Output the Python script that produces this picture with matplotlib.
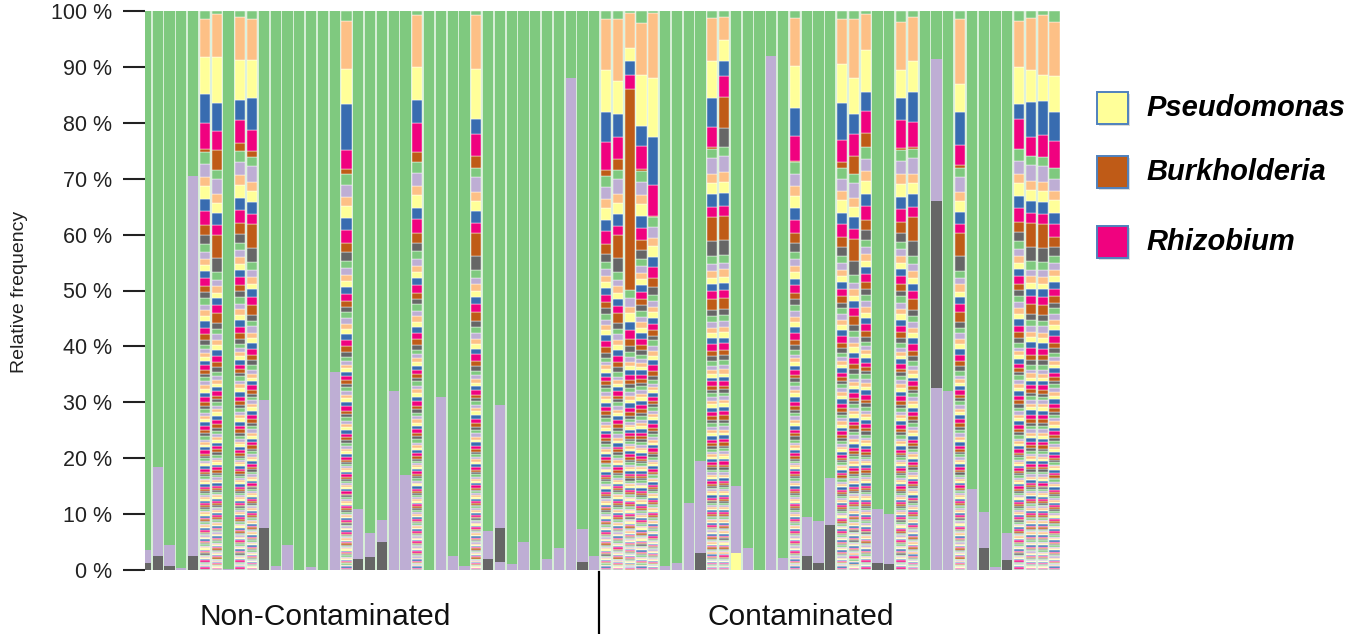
import numpy as np
import matplotlib
matplotlib.use("Agg")
import matplotlib.pyplot as plt
from matplotlib.patches import Rectangle
from matplotlib.lines import Line2D

plt.rcParams['font.family'] = ['Liberation Sans', 'DejaVu Sans']

# ---------------- data ----------------
group_names = ['Non-Contaminated', 'Contaminated']
group_sizes = [39, 39]
samples = [f'S{i}' for i in range(1, 79)]

# colour of each taxon rank, counted from the top of every stack (cycled)
rank_colors = ['#7fc97f', '#beaed4', '#fdc086', '#ffff99',
               '#386cb0', '#f0027f', '#bf5b17', '#666666']

legend_taxa = ['Pseudomonas', 'Burkholderia', 'Rhizobium']
legend_colors = ['#ffff99', '#bf5b17', '#f0027f']

# rank-1 taxon (lavender) share per sample, %
lav1 = [2.2, 16, 3.7, 0.3, 68, 0, 0, 0.2, 0, 0, 23, 0.8, 4.5,
        0, 0.5, 0, 35.5, 0, 9, 4.4, 4, 32, 17, 0, 0, 31,
        2.5, 0.8, 0, 5, 22, 1, 5, 0, 2, 4, 88, 5.8, 2.5,
        0, 0, 0, 0, 0, 0.8, 1.2, 12, 16.5, 0, 0, 12, 4,
        0, 92, 2.2, 0, 7, 7.4, 8.5, 0, 0, 0, 9.7, 9, 0,
        0, 0, 25.5, 32, 0, 14.5, 6.3, 0.5, 5, 0, 0, 0, 0]

# rank-7 taxon (dark grey) share per sample, %
gray7 = [1.3, 2.5, 0.8, 0, 2.5, 0, 0, 0, 0, 0, 7.5, 0, 0,
         0, 0, 0, 0, 0, 2, 2.3, 5, 0, 0, 0, 0, 0,
         0, 0, 0, 2, 6, 0, 0, 0, 0, 0, 0, 1.5, 0,
         0, 0, 0, 0, 0, 0, 0, 0, 3, 0, 3.3, 0, 0,
         0, 0, 0, 0, 2.5, 1.3, 8, 0, 0, 0, 1.3, 1, 0,
         0, 0, 33.5, 0, 0, 0, 4, 0, 1.7, 0, 0, 0, 0]

# extra minor shares in simple samples (sample number -> %)
lav9_extra = {31: 1.5, 68: 32.5}
yellow11_extra = {51: 3.0}

# highly diverse samples: leading ranks read per sample
mixed_ids = [6, 7, 9, 10, 18, 24, 29, 40, 41, 42, 43, 44, 49,
             50, 56, 60, 61, 62, 65, 66, 70, 75, 76, 77, 78]
mixed_green0 = [1.4, 0.5, 1.0, 1.4, 1.7, 0.7, 0.7, 1.5, 1.5, 0.4, 2.2, 0.3, 1.2,
                1.0, 1.3, 1.5, 1.5, 0.5, 2.0, 1.0, 1.5, 1.7, 1.3, 0.7, 2.0]
mixed_peach2 = [6.9, 7.7, 7.8, 7.4, 8.7, 9.3, 9.6, 9.0, 11.0, 6.2, 9.3, 11.7, 7.8,
                4.2, 8.5, 8.0, 10.5, 6.5, 8.5, 8.0, 11.5, 8.3, 9.3, 10.7, 9.7]
mixed_pseudomonas3 = [6.5, 8.2, 7.2, 6.8, 6.3, 6.0, 9.0, 7.5, 6.0, 2.4, 9.0, 10.5, 6.6,
                      3.8, 7.5, 7.0, 6.5, 7.5, 5.0, 5.5, 5.0, 6.7, 5.7, 4.7, 6.3]
mixed_blue4 = [5.2, 5.0, 3.5, 5.6, 8.1, 4.0, 2.7, 5.5, 4.0, 2.4, 3.6, 8.7, 5.1,
               2.7, 5.0, 6.5, 3.5, 3.3, 4.0, 5.3, 6.0, 2.7, 6.3, 6.0, 5.3]
mixed_rhizobium5 = [4.7, 3.5, 4.2, 3.8, 3.5, 5.3, 4.0, 5.0, 4.0, 2.6, 4.1, 5.4, 3.6,
                    3.6, 4.5, 4.0, 4.0, 4.0, 5.0, 4.5, 3.5, 5.3, 3.3, 4.0, 4.7]
mixed_burkholderia6 = [0.6, 3.5, 1.3, 1.1, 0.9, 1.7, 2.0, 1.0, 2.0, 36.0, 0.5, 0.3, 0.3,
                       5.7, 0.3, 1.0, 3.2, 2.5, 0.3, 0.3, 0.6, 0.0, 0.0, 0.0, 0.0]
mixed_tail = ['A', 'B', 'A', 'B', 'A', 'A', 'B', 'A', 'B', 'A', 'A', 'A', 'B',
              'B', 'A', 'A', 'B', 'A', 'A', 'B', 'B', 'A', 'B', 'B', 'A']

tail_A = [1.8, 2.0, 1.5, 2.0, 1.9, 2.1, 1.6, 1.4,
          1.2, 1.1, 1.0, 1.0, 1.1, 1.2, 1.0, 0.9,
          1.0, 0.9, 0.9, 0.8, 1.0, 1.0, 0.9, 0.8,
          0.7, 0.6, 0.6, 0.6, 0.7, 0.7, 0.6, 0.5,
          0.7, 0.6, 0.6, 0.6, 0.7, 0.7, 0.6, 0.5,
          0.6, 0.5, 0.5, 0.5, 0.6, 0.6, 0.5, 0.5,
          0.5, 0.4, 0.4, 0.4, 0.5, 0.5, 0.4, 0.3,
          0.4, 0.3, 0.3, 0.3, 0.4, 0.4, 0.4, 0.3,
          0.4, 0.3, 0.3, 0.3, 0.4, 0.4, 0.3, 0.3,
          0.3, 0.3, 0.3, 0.3, 0.3, 0.3, 0.3, 0.3,
          0.3, 0.3, 0.3, 0.2, 0.3, 0.3, 0.2, 0.2,
          0.3, 0.2, 0.2, 0.2, 0.3, 0.3, 0.2, 0.2,
          0.2, 0.2, 0.2, 0.2, 0.2, 0.2, 0.2, 0.2,
          0.2, 0.2, 0.2, 0.2, 0.2, 0.2, 0.2, 0.2,
          0.2, 0.2, 0.2, 0.1, 0.2, 0.2, 0.1, 0.1,
          0.2, 0.1, 0.1, 0.1, 0.2, 0.2, 0.1, 0.1]
tail_B = [1.5, 2.5, 1.5, 1.8, 2.0, 1.6, 3.8, 2.4,
          1.3, 1.0, 1.2, 0.9, 1.2, 1.3, 1.6, 1.0,
          0.9, 1.0, 0.8, 0.9, 0.9, 1.1, 0.8, 0.8,
          0.8, 0.6, 0.7, 0.5, 0.6, 0.8, 0.6, 0.5,
          0.6, 0.6, 0.5, 0.6, 0.7, 0.6, 0.7, 0.5,
          0.5, 0.6, 0.5, 0.4, 0.6, 0.5, 0.5, 0.4,
          0.5, 0.4, 0.4, 0.4, 0.4, 0.5, 0.4, 0.4,
          0.4, 0.4, 0.3, 0.3, 0.4, 0.4, 0.3, 0.3,
          0.3, 0.3, 0.3, 0.3, 0.4, 0.3, 0.3, 0.3,
          0.3, 0.3, 0.3, 0.2, 0.3, 0.3, 0.3, 0.2,
          0.3, 0.2, 0.3, 0.2, 0.3, 0.2, 0.2, 0.2,
          0.2, 0.2, 0.2, 0.2, 0.3, 0.2, 0.2, 0.2,
          0.2, 0.2, 0.2, 0.2, 0.2, 0.2, 0.2, 0.2,
          0.2, 0.2, 0.2, 0.1, 0.2, 0.2, 0.2, 0.1,
          0.2, 0.1, 0.1, 0.1, 0.2, 0.1, 0.1, 0.1,
          0.1, 0.1, 0.1, 0.1, 0.1, 0.1, 0.1, 0.1]

# ---------------- assemble table (ranks x samples) ----------------
n = len(samples)
tails = {'A': np.array(tail_A), 'B': np.array(tail_B)}
n_ranks = 8 + len(tail_A)
V = np.zeros((n_ranks, n))
V[1] = lav1
V[7] = gray7
for s, v in lav9_extra.items():
    V[9, s - 1] = v
for s, v in yellow11_extra.items():
    V[11, s - 1] = v
is_mixed = np.zeros(n, bool)
for k, s in enumerate(mixed_ids):
    j = s - 1
    is_mixed[j] = True
    V[0, j] = mixed_green0[k]
    V[2, j] = mixed_peach2[k]
    V[3, j] = mixed_pseudomonas3[k]
    V[4, j] = mixed_blue4[k]
    V[5, j] = mixed_rhizobium5[k]
    V[6, j] = mixed_burkholderia6[k]
    t = tails[mixed_tail[k]]
    rest = 100 - V[:8, j].sum()
    V[8:, j] = t * rest / t.sum()
for j in range(n):
    if not is_mixed[j]:
        V[0, j] = 100 - V[1:, j].sum()

# ---------------- figure ----------------
W, H = 1351, 634
fig = plt.figure(figsize=(W / 100, H / 100), dpi=100)
ax_l, ax_r, ax_b, ax_t = 145, 1060.4, 570, 11
ax = fig.add_axes([ax_l / W, (H - ax_b) / H, (ax_r - ax_l) / W, (ax_b - ax_t) / H])
ax.set_facecolor('#d6eed6')

x = np.arange(n)
pitch = 11.8
x0 = (ax_l - 145.9) / pitch
ax.set_xlim(x0, x0 + (ax_r - ax_l) / pitch)
ax.set_ylim(0, 100)

bottom = np.zeros(n)
for t in range(n_ranks - 1, -1, -1):
    vals = V[t]
    lw = np.where(is_mixed & (vals > 0), 0.3, 0.0)
    ax.bar(x, vals, bottom=bottom, width=0.86, color=rank_colors[t % 8],
           edgecolor='white', linewidth=lw)
    bottom += vals

for sp in ax.spines.values():
    sp.set_visible(False)
ax.set_xticks([])
ax.set_yticks(range(0, 101, 10))
ax.set_yticklabels([f'{v} %' for v in range(0, 101, 10)])
ax.tick_params(axis='y', length=16, width=1.5, color='#222222', pad=8,
               labelsize=15.5, labelcolor='#222222')

fig.text(20 / W, 1 - 292 / H, 'Relative frequency', rotation=90,
         ha='center', va='center', fontsize=14, color='#222222')

# group labels and divider
fig.text(325 / W, (H - 617) / H, group_names[0], ha='center', va='center',
         fontsize=21.5, color='#111111')
fig.text(801 / W, (H - 617) / H, group_names[1], ha='center', va='center',
         fontsize=21.5, color='#111111')
fig.add_artist(Line2D([599 / W, 599 / W], [0, (H - 572) / H], color='black', lw=1.6))

# legend
sq_top = [92, 156, 226]
txt_y = [108, 172, 242]
for name, col, yt, ty in zip(legend_taxa, legend_colors, sq_top, txt_y):
    fig.add_artist(Rectangle(((1097 + 2) / W, (H - yt - 32 - 2) / H), 31 / W, 32 / H,
                             facecolor='#999999', edgecolor='none', alpha=0.35))
    fig.add_artist(Rectangle((1097 / W, (H - yt - 32) / H), 31 / W, 32 / H,
                             facecolor=col, edgecolor='#4f81bd', lw=1.4))
    fig.text(1146 / W, 1 - ty / H, name, ha='left', va='center', fontsize=21,
             fontweight='bold', fontstyle='italic', color='black')

fig.savefig('out.png', dpi=100)
